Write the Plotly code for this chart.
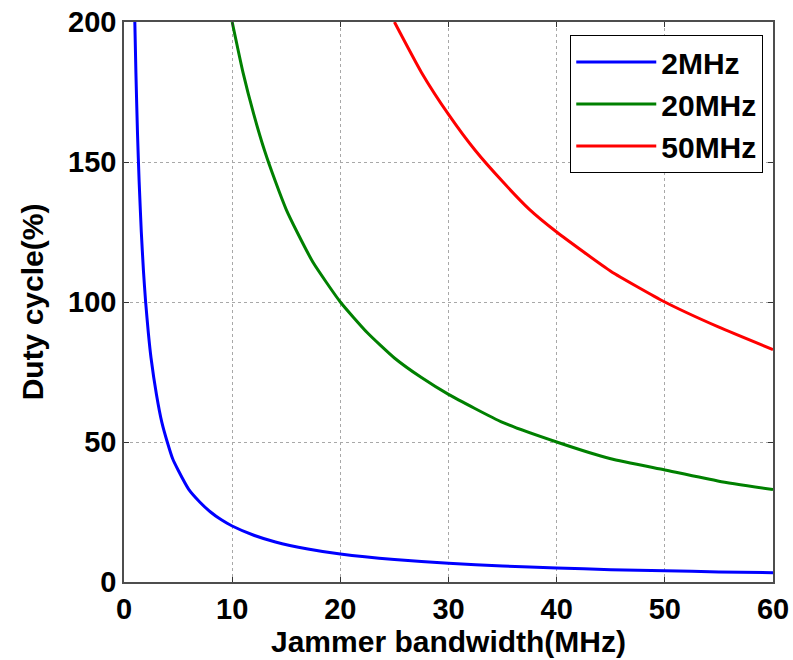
import plotly.graph_objects as go

# Values
x_2mhz = [1, 1.1, 1.25, 1.4, 1.6, 1.8, 2, 2.25, 2.5, 3, 3.5, 4, 4.5, 5, 6, 7, 8, 9, 10, 12, 14, 17, 20, 25, 30, 35, 40, 45, 50, 55, 60]
y_2mhz = [200, 182, 160, 143, 125, 111, 100, 89, 80, 67, 57, 50, 44, 40, 33, 28.6, 25, 22.2, 20, 16.7, 14.3, 11.8, 10, 8, 6.7, 5.7, 5, 4.4, 4, 3.6, 3.3]

x_20mhz = [10, 11, 12, 13, 14, 15, 16, 17.5, 20, 22.5, 25, 27.5, 30, 35, 40, 45, 50, 55, 60]
y_20mhz = [200, 182, 167, 154, 143, 133, 125, 114, 100, 89, 80, 73, 67, 57, 50, 44, 40, 36, 33]

x_50mhz = [25, 27.5, 30, 32.5, 35, 37.5, 40, 45, 50, 55, 60]
y_50mhz = [200, 182, 167, 154, 143, 133, 125, 111, 100, 91, 83]

series_names = ["2MHz", "20MHz", "50MHz"]
series_colors = ["#0000FF", "#008000", "#FF0000"]

x_ticks = [0, 10, 20, 30, 40, 50, 60]
y_ticks = [0, 50, 100, 150, 200]

FONT = "Liberation Sans, Arial, sans-serif"

fig = go.Figure()
for i, (xs, ys) in enumerate([(x_2mhz, y_2mhz), (x_20mhz, y_20mhz), (x_50mhz, y_50mhz)]):
    fig.add_trace(go.Scatter(
        x=xs, y=ys, mode="lines", name=series_names[i],
        line=dict(color=series_colors[i], width=3, shape="spline", smoothing=0.5),
    ))

axis_common = dict(
    showgrid=True, gridcolor="#a8a8a8", griddash="dot", gridwidth=1,
    showline=True, linecolor="#4d4d4d", linewidth=1.5, mirror="ticks",
    ticks="inside", ticklen=5, tickcolor="#333333", tickwidth=1.2,
    zeroline=False, automargin=False,
    tickfont=dict(family=FONT, size=29, color="black", weight="bold"),
)

fig.update_xaxes(range=[0, 60], tickvals=x_ticks,
                 title=dict(text="Jammer bandwidth(MHz)", standoff=4,
                            font=dict(family=FONT, size=30, color="black", weight="bold")),
                 **axis_common)
fig.update_yaxes(range=[0, 200], tickvals=y_ticks,
                 title=dict(text="Duty cycle(%)", standoff=16,
                            font=dict(family=FONT, size=30, color="black", weight="bold")),
                 **axis_common)

fig.update_layout(
    width=793, height=660,
    margin=dict(l=124, r=20, t=22, b=78),
    plot_bgcolor="white", paper_bgcolor="white",
    showlegend=True,
    legend=dict(
        x=0.985, y=0.977, xanchor="right", yanchor="top",
        bordercolor="black", borderwidth=1, bgcolor="white",
        font=dict(family=FONT, size=30, color="black", weight="bold"),
        itemwidth=80, tracegroupgap=0,
    ),
)

fig.write_html("out.html")
